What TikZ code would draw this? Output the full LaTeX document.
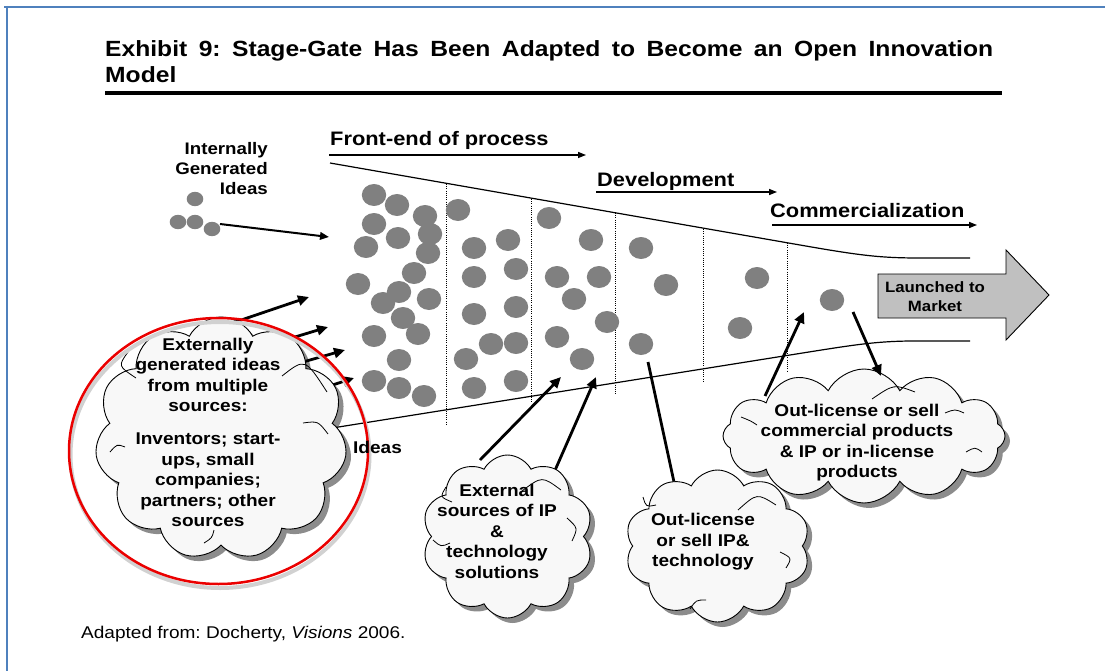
\documentclass[tikz,border=0pt]{standalone}
\usepackage{fontspec}
\setmainfont{Liberation Sans}[FakeStretch=1.12]
\usetikzlibrary{arrows.meta,shapes.symbols,shadows}
\definecolor{frameblue}{RGB}{79,129,189}
\definecolor{dotgray}{RGB}{128,128,128}
\definecolor{cloudfill}{RGB}{248,248,248}
\definecolor{launchgray}{RGB}{192,192,192}
\definecolor{ringred}{RGB}{235,0,0}
\newcommand{\setsize}[2]{\fontsize{#1}{#2}\selectfont}

\begin{document}
\frenchspacing
\begin{tikzpicture}[x=1pt,y=-1pt,
  titletext/.style={inner sep=0pt, font=\setsize{22}{26}\bfseries},
  stagetext/.style={inner sep=0pt, font=\setsize{19.5}{23}\bfseries},
  labeltext/.style={inner sep=0pt, font=\setsize{16.7}{20}\bfseries,
    execute at begin node=\strut, execute at end node=\strut},
  cloudtext/.style={inner sep=0pt, align=center, font=\setsize{17}{20.5}\bfseries,
    execute at begin node=\strut, execute at end node=\strut},
  launchtext/.style={inner sep=0pt, align=center, font=\setsize{15}{19}\bfseries,
    execute at begin node=\strut, execute at end node=\strut},
  cloudbox/.style={cloud, cloud puffs=#1, cloud puff arc=125, cloud ignores aspect,
    draw=black, line width=0.9pt, fill=cloudfill, inner sep=0pt,
    drop shadow={shadow xshift=5pt, shadow yshift=-5pt, fill=black, opacity=0.45}},
  fold/.style={line width=0.8pt},
  stagearrow/.style={line width=1.4pt, -{Triangle[length=8pt,width=6pt]}},
  midarrow/.style={line width=2pt, -{Triangle[length=9pt,width=7.5pt]}},
  thickarrow/.style={line width=2.8pt, -{Triangle[length=11pt,width=10pt]}},
  thickline/.style={line width=2.8pt},
  funnel/.style={line width=1.2pt},
  gate/.style={line width=0.7pt, dash pattern=on 1pt off 1.2pt},
]
\useasboundingbox[fill=white] (0,0) rectangle (1105,671);

% page frame
\draw[frameblue, line width=2pt] (4,7) -- (1105,7);
\draw[frameblue, line width=2pt] (7,6) -- (7,671);

% heading and rule
\node[titletext, anchor=base west] (title1) at (105,57)
  {\makebox[888pt][s]{Exhibit 9: Stage-Gate Has Been Adapted to Become an Open Innovation}};
\node[titletext, anchor=base west] (title2) at (105,83) {Model};
\draw[line width=4.3pt] (105,93) -- (1002,93);

% stage labels with their arrows
\node[stagetext, anchor=base west] (front) at (330,146) {Front-end of process};
\coordinate (frontA) at (329,155); \coordinate (frontB) at (586,155);
\draw[stagearrow] (frontA) -- (frontB);
\node[stagetext, anchor=base west] (devel) at (597,187) {Development};
\coordinate (develA) at (596,192); \coordinate (develB) at (777,192);
\draw[stagearrow] (develA) -- (develB);
\node[stagetext, anchor=base west] (comm) at (770,218) {Commercialization};
\coordinate (commA) at (772,225); \coordinate (commB) at (977,225);
\draw[stagearrow] (commA) -- (commB);

% internally generated ideas
\node[labeltext, align=right, anchor=east] (internal) at (268,171) {Internally\\Generated\\Ideas};
\foreach \px/\py in {195/199, 178/222, 195/222, 212/229}
  \fill[dotgray] (\px,\py) ellipse [x radius=8.3, y radius=7.2];
\coordinate (intA) at (220,224); \coordinate (intB) at (329,237);
\draw[midarrow] (intA) -- (intB);

% funnel outline
\draw[funnel] (330,163) -- (800,245) .. controls (860,255.5) and (880,258) .. (920,258) -- (970,258);
\draw[funnel] (326,429) -- (790,355) .. controls (850,345.5) and (872,341.5) .. (910,341) -- (970,341);

% gates
\draw[gate] (446,184) -- (446,425);
\draw[gate] (531,199) -- (531,402);
\draw[gate] (615,213) -- (615,394);
\draw[gate] (703,229) -- (703,382);
\draw[gate] (787,243) -- (787,372);

% ideas moving through the funnel
\foreach \px/\py in {
  374/195, 397/205, 425/216, 374/224, 398/238, 430/234, 366/247, 428/253,
  414/273, 358/284, 399/292, 383/303, 429/299, 403/318, 418/334, 374/336,
  399/360, 374/381, 399/388, 424/396,
  458/210, 474/248, 508/240, 474/277, 516/269, 474/314, 516/307, 491/344,
  516/343, 466/359, 474/388, 516/381,
  549/218, 591/240, 557/277, 599/277, 574/299, 607/322, 557/337, 582/359,
  641/248, 666/285, 641/344,
  757/278, 740/328,
  832/300}
  \fill[dotgray] (\px,\py) ellipse [x radius=12.2, y radius=11];

% external ideas entering the funnel
\coordinate (extA1) at (200,334); \coordinate (extB1) at (309,297);
\coordinate (extA2) at (262,347); \coordinate (extB2) at (328,327);
\coordinate (extA3) at (282,368); \coordinate (extB3) at (345,350);
\coordinate (extA4) at (308,393); \coordinate (extB4) at (354,378);
\draw[thickarrow] (extA1) -- (extB1);
\draw[thickarrow] (extA2) -- (extB2);
\draw[thickarrow] (extA3) -- (extB3);
\draw[thickarrow] (extA4) -- (extB4);

% external ideas cloud
\node[cloudbox=11, minimum width=252pt, minimum height=243pt] (cloudExt) at (221,438.5) {};
\draw[fold] (128,352) .. controls (118,366) .. (136,378);
\draw[fold] (282,376) .. controls (305,358) .. (327,392);
\draw[fold] (303,423) .. controls (318,421) .. (328,434);
\draw[fold] (110,452) .. controls (117,444) .. (125,447);
\draw[fold] (204,543) .. controls (212,538) .. (214,530);
\node[cloudtext] (cloudExtText) at (208,435.2)
  {Externally\\generated ideas\\from multiple\\sources:\\[12.5pt]Inventors; start-\\ups, small\\companies;\\partners; other\\sources};

% highlight ring
\draw[black!18, line width=4pt] (220,455) ellipse [x radius=149.5, y radius=133];
\draw[ringred, line width=2.5pt] (218.5,451) ellipse [x radius=149.5, y radius=133];

% external IP and technology
\coordinate (ipA1) at (480,460); \coordinate (ipB1) at (561,377);
\coordinate (ipA2) at (549,484); \coordinate (ipB2) at (596,377);
\draw[thickarrow] (ipA1) -- (ipB1);
\draw[thickarrow] (ipA2) -- (ipB2);
\node[cloudbox=10, minimum width=171pt, minimum height=163pt] (cloudIP) at (507.5,536.5) {};
\draw[fold] (446,487) .. controls (440,497) .. (452,502);
\draw[fold] (522,491) .. controls (542,476) .. (561,490);
\draw[fold] (567,518) .. controls (578,528) .. (572,541);
\draw[fold] (433,540) .. controls (441,547) .. (450,543);
\node[cloudtext] (cloudIPText) at (497,534.4)
  {External\\sources of IP\\\&\\technology\\solutions};

% out-licensing during development
\coordinate (outA) at (648,362); \coordinate (outB) at (674,482);
\draw[thickline] (outA) -- (outB);
\node[cloudbox=10, minimum width=185pt, minimum height=152pt] (cloudOut) at (717.5,546) {};
\draw[fold] (643,497) .. controls (646,507) .. (656,505);
\draw[fold] (738,510) .. controls (757,493) .. (776,505);
\draw[fold] (780,552) .. controls (792,558) .. (786,568);
\draw[fold] (690,609) .. controls (696,600) .. (706,600);
\node[cloudtext] (cloudOutText) at (703,543.4)
  {Out-license\\or sell IP\&\\technology};

% commercial licensing
\coordinate (comA1) at (765,396); \coordinate (comB1) at (804,312);
\draw[thickarrow] (comA1) -- (comB1);
\node[cloudbox=12, minimum width=282pt, minimum height=134pt] (cloudCom) at (864,436) {};
\draw[fold] (741,417) .. controls (751,421) .. (757,425);
\draw[fold] (872,399) .. controls (894,384) .. (915,392);
\draw[fold] (945,413) .. controls (955,409) .. (964,413);
\draw[fold] (966,452) .. controls (975,447) .. (982,452);
\node[cloudtext] (cloudComText) at (857,443.9)
  {Out-license or sell\\commercial products\\\& IP or in-license\\products};
\coordinate (comA2) at (853,312); \coordinate (comB2) at (881,376);
\draw[thickarrow] (comA2) -- (comB2);

% launch
\draw[fill=launchgray, line width=0.9pt, line join=miter]
  (878,274) -- (1006,274) -- (1006,250) -- (1049,295) -- (1006,340) -- (1006,318) -- (878,318) -- cycle;
\node[launchtext] (launch) at (935,299.1) {Launched to\\Market};

% remaining labels
\node[inner sep=0pt, anchor=base west, font=\setsize{17}{20}\bfseries] (ideas) at (353,453) {Ideas};
\node[inner sep=0pt, anchor=base west, font=\setsize{17}{20}] (source) at (81,638)
  {Adapted from: Docherty, \textit{Visions} 2006.};
\end{tikzpicture}
\end{document}
